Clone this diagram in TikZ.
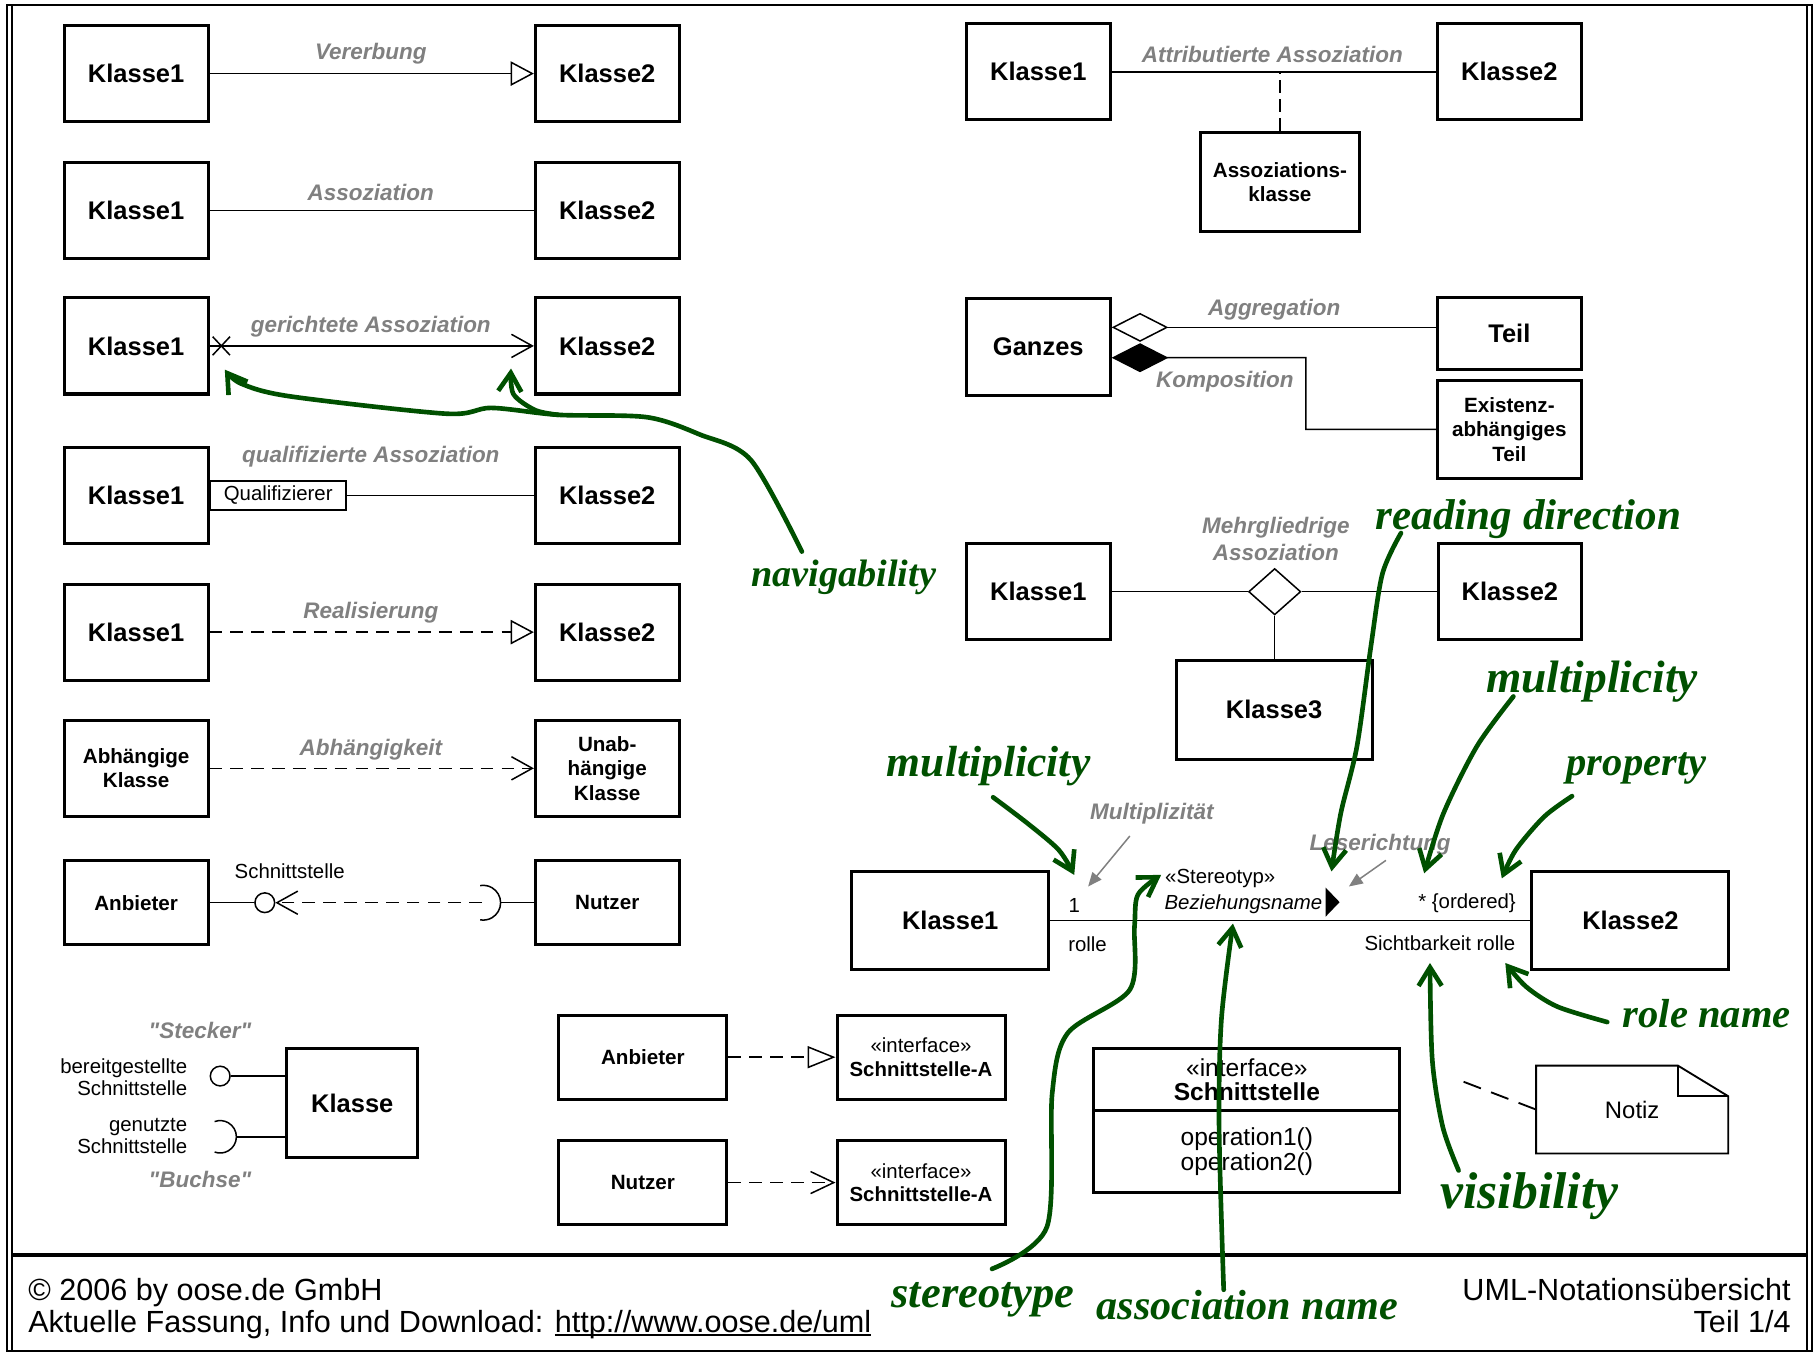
\documentclass[tikz,border=0pt]{standalone}
\usepackage{fontspec}
\setmainfont{Liberation Sans}[Ligatures=TeXOff]
\newfontfamily\handfont{Liberation Serif}
\usetikzlibrary{arrows.meta,shapes.geometric}

\definecolor{labelgray}{RGB}{128,128,128}
\definecolor{inkgreen}{RGB}{0,80,0}

\newcommand\unterstrich[1]{\setbox0=\hbox{#1}\rlap{\rule[-1.7pt]{\wd0}{0.7pt}}\box0}

\tikzset{
  klasse/.style={draw, line width=1.3pt, inner sep=0pt, minimum width=62pt, minimum height=41.5pt, align=center, font=\fontsize{11}{12}\selectfont\bfseries},
  klasseklein/.style={klasse, font=\fontsize{8.9}{10.5}\selectfont\bfseries},
  rel/.style={line width=0.65pt},
  relgestr/.style={rel, dash pattern=on 5.5pt off 3.5pt},
  relname/.style={text=labelgray, inner sep=0pt, align=center, font=\fontsize{9.7}{11.5}\selectfont\bfseries\itshape},
  txt/.style={inner sep=0pt, align=center, font=\fontsize{8.8}{9.6}\selectfont},
  zeig/.style={draw=labelgray, line width=0.65pt, -{Triangle[length=6pt,width=5pt]}},
  erbt/.style={-{Triangle[open,length=10pt,width=10.5pt]}},
  navig/.style={-{Straight Barb[length=9pt,width=10pt]}},
  hand/.style={draw=inkgreen, line width=2pt, line cap=round, line join=round, -{Straight Barb[length=8pt,width=10pt]}},
  handtext/.style={text=inkgreen, inner sep=0pt, anchor=base west, font=\handfont\bfseries\itshape\fontsize{#1}{#1}\selectfont},
}

\begin{document}
\begin{tikzpicture}[x=0.5pt, y=-0.5pt]
  \useasboundingbox (0,0) rectangle (1568,1168);
  % frame
  \draw[line width=0.9pt] (6,4) rectangle (1563.5,1166);
  \draw[line width=0.9pt] (10.5,4) -- (10.5,1166) (1559.5,4) -- (1559.5,1166);
  \draw[line width=1.3pt] (10.5,1083) -- (1559.5,1083);

  % left column
  \node[klasse] (v1) at (117.5,63.5) {Klasse1};
  \node[klasse] (v2) at (524,63.5) {Klasse2};
  \draw[rel,erbt] (v1) -- (v2);
  \node[relname] (vn) at (320,46) {Vererbung};

  \node[klasse] (a1) at (117.5,181.5) {Klasse1};
  \node[klasse] (a2) at (524,181.5) {Klasse2};
  \draw[rel] (a1) -- (a2);
  \node[relname] (an) at (320,166) {Assoziation};

  \node[klasse] (g1) at (117.5,298.5) {Klasse1};
  \node[klasse] (g2) at (524,298.5) {Klasse2};
  \draw[rel,navig] (g1) -- (g2);
  \coordinate (gx) at (191,298.5);
  \draw[rel] (gx) +(-7.5,-8) -- +(7.5,8) (gx) +(-7.5,8) -- +(7.5,-8);
  \node[relname] (gn) at (320,282) {gerichtete Assoziation};

  \node[klasse] (q1) at (117.5,427.5) {Klasse1};
  \node[klasse] (q2) at (524,427.5) {Klasse2};
  \node[draw, line width=0.8pt, minimum width=58.5pt, minimum height=12.5pt, inner sep=0pt, anchor=west, font=\fontsize{8.8}{9.6}\selectfont] (qq) at (q1.east) {Qualifizierer};
  \draw[rel] (qq) -- (q2);
  \node[relname] (qn) at (320,394) {qualifizierte Assoziation};

  \node[klasse] (r1) at (117.5,545.5) {Klasse1};
  \node[klasse] (r2) at (524,545.5) {Klasse2};
  \draw[relgestr,erbt] (r1) -- (r2);
  \node[relname] (rn) at (320,529) {Realisierung};

  \node[klasseklein] (d1) at (117.5,663) {Abhängige\\Klasse};
  \node[klasseklein] (d2) at (524,663) {Unab-\\hängige\\Klasse};
  \draw[relgestr,navig] (d1) -- (d2);
  \node[relname] (dn) at (320,647) {Abhängigkeit};

  \node[klasseklein, minimum height=36.3pt] (s1) at (117.5,779) {Anbieter};
  \node[klasseklein, minimum height=36.3pt] (s2) at (524,779) {Nutzer};
  \node[circle, draw, rel, minimum size=8.5pt, inner sep=0pt] (sb) at (228.5,779) {};
  \coordinate (sk) at (432,779);
  \draw[rel] (s1) -- (sb);
  \draw[rel] (sk) -- (s2);
  \draw[rel] (sk) arc[start angle=0, end angle=100, radius=15] (sk) arc[start angle=0, end angle=-100, radius=15];
  \draw[relgestr,navig] ([xshift=-8pt]sk) -- (sb);
  \node[txt] (sn) at (250,752) {Schnittstelle};

  % right column
  \node[klasse] (t1) at (896,62) {Klasse1};
  \node[klasse] (t2) at (1302.5,62) {Klasse2};
  \draw[rel] (t1) -- (t2);
  \node[klasseklein, minimum width=68.5pt, minimum height=43pt] (tk) at (1104.5,157) {Assoziations-\\klasse};
  \draw[rel, dash pattern=on 5.5pt off 2.7pt] (tk.north) -- (tk.north |- t1.east);
  \node[relname] (tn) at (1098,47) {Attributierte Assoziation};

  \node[klasse] (ga) at (896,299.5) {Ganzes};
  \node[klasse, minimum height=31pt] (te) at (1302.5,288) {Teil};
  \node[klasseklein, minimum height=42.5pt] (ex) at (1302.5,370.5) {Existenz-\\abhängiges\\Teil};
  \coordinate (ag) at ([yshift=8.5pt]ga.east);
  \coordinate (ko) at ([yshift=-4.6pt]ga.east);
  \draw[rel,{Diamond[open,length=24.5pt,width=12.5pt]}-] (ag) -- (ag -| te.west);
  \draw[rel,{Diamond[length=24.5pt,width=12.5pt]}-] (ko) -- (1127,308.7) |- (ex.west);
  \node[relname] (agn) at (1099.6,267.5) {Aggregation};
  \node[relname] (kon) at (1057,329.4) {Komposition};

  \node[klasse] (m1) at (896,510.6) {Klasse1};
  \node[klasse] (m2) at (1303,510.6) {Klasse2};
  \node[diamond, draw, rel, inner sep=0pt, minimum width=22.5pt, minimum height=20pt] (md) at (1100,510.6) {};
  \node[klasse, minimum width=84.5pt, minimum height=42.5pt] (m3) at (1099.5,612.5) {Klasse3};
  \draw[rel] (m1) -- (md) -- (m2);
  \draw[rel] (md.south) -- (md.south |- m3.north);
  \node[relname] (mn) at (1101,465) {Mehrgliedrige\\Assoziation};

  % association in detail
  \node[klasse, minimum width=85pt, minimum height=42.5pt] (b1) at (820,794.5) {Klasse1};
  \node[klasse, minimum width=85pt, minimum height=42.5pt] (b2) at (1407,794.5) {Klasse2};
  \draw[rel] (b1) -- (b2);
  \node[txt] (bm1) at (927,781) {1};
  \node[txt] (br1) at (938.5,815) {rolle};
  \node[txt] (bst) at (1053,758) {«Stereotyp»};
  \node[txt, font=\fontsize{8.8}{9.6}\selectfont\itshape] (bbz) at (1073,780) {Beziehungsname};
  \fill (1144,766) -- (1156,778.5) -- (1144,791) -- cycle;
  \node[txt, anchor=east] (bm2) at (1308.5,779.5) {* \{ordered\}};
  \node[txt, anchor=east] (br2) at (1308,814) {Sichtbarkeit rolle};
  \node[relname] (bmn) at (994,702) {Multiplizität};
  \node[relname] (bln) at (1191,729) {Leserichtung};
  \coordinate (bmz) at (939,765);
  \coordinate (blz) at (1164,765);
  \draw[zeig] ([shift={(-19,10)}]bmn.south) -- (bmz);
  \draw[zeig] ([shift={(5,4)}]bln.south) -- (blz);

  % ball and socket
  \node[klasse, minimum width=56.5pt, minimum height=47pt] (kl) at (304,952) {Klasse};
  \node[circle, draw, rel, minimum size=8.5pt, inner sep=0pt] (kb) at (190,928.6) {};
  \draw[rel] (kb) -- (kb -| kl.west);
  \coordinate (ks) at (204,981);
  \draw[rel] (ks) -- (ks -| kl.west);
  \draw[rel] (ks) arc[start angle=0, end angle=110, radius=14] (ks) arc[start angle=0, end angle=-110, radius=14];
  \node[txt, align=right, anchor=east, font=\fontsize{8.8}{9.5}\selectfont] (kbt) at (162,929.5) {bereitgestellte\\Schnittstelle};
  \node[txt, align=right, anchor=east, font=\fontsize{8.8}{9.5}\selectfont] (kst) at (162,980.5) {genutzte\\Schnittstelle};
  \node[relname] (kbn) at (172.6,889) {"Stecker"};
  \node[relname] (ksn) at (172.6,1018) {"Buchse"};

  % interfaces
  \node[klasseklein, minimum width=72.5pt, minimum height=36.3pt] (ia) at (554.8,912.3) {Anbieter};
  \node[klasseklein, minimum width=72.5pt, minimum height=36.3pt, font=\fontsize{8.8}{10}\selectfont] (ib) at (794.8,912.3) {«interface»\\\textbf{Schnittstelle-A}};
  \draw[relgestr,-{Triangle[open,length=12pt,width=9.5pt]}] (ia) -- (ib);
  \node[klasseklein, minimum width=72.5pt, minimum height=36.3pt] (na) at (554.8,1020.5) {Nutzer};
  \node[klasseklein, minimum width=72.5pt, minimum height=36.3pt, font=\fontsize{8.8}{10}\selectfont] (nb) at (794.8,1020.5) {«interface»\\\textbf{Schnittstelle-A}};
  \draw[relgestr,-{Straight Barb[length=10pt,width=9.5pt]}] (na) -- (nb);

  \node[draw, line width=1.3pt, outer sep=0pt, minimum width=132pt, minimum height=27pt, inner sep=0pt, align=center, font=\fontsize{10.6}{10.5}\selectfont] (ic) at (1076,931.5) {«interface»\\\textbf{Schnittstelle}};
  \node[draw, line width=1.3pt, outer sep=0pt, minimum width=132pt, minimum height=35.25pt, inner sep=0pt, align=center, font=\fontsize{10.6}{11}\selectfont, anchor=north] (io) at (ic.south) {operation1()\\operation2()};

  % note
  \node[minimum width=82.5pt, minimum height=37.5pt, inner sep=0pt, font=\fontsize{10.3}{12}\selectfont] (nz) at (1408.5,957.5) {Notiz};
  \draw[line width=0.8pt] (nz.south west) |- ([xshift=-21.7pt]nz.north east) -- ([yshift=-13.2pt]nz.north east) -- (nz.south east) -- cycle;
  \draw[line width=0.8pt] ([xshift=-21.7pt]nz.north east) |- ([yshift=-13.2pt]nz.north east);
  \coordinate (nzl) at (1263,933.5);
  \draw[line width=0.8pt, dash pattern=on 8pt off 4.7pt] (nzl) -- (nz.west);

  % footer
  \node[inner sep=0pt, anchor=north west, align=left, font=\fontsize{13.2}{13.5}\selectfont] (fl) at (24,1103) {© 2006 by oose.de GmbH\\Aktuelle Fassung, Info und Download: \unterstrich{http://www.oose.de/uml}};
  \node[inner sep=0pt, anchor=north east, align=right, font=\fontsize{13.2}{13.5}\selectfont] (fr) at (1545.6,1103) {UML-Notationsübersicht\\Teil 1/4};

  % handwritten notes
  \node[handtext=16.5] (hnav) at (648,506) {navigability};
  \coordinate (hnavS) at ([shift={(44,-30)}]hnav.base west);
  \coordinate (hnavJ) at (482,358);
  \coordinate (hnavK1) at (194,319);
  \coordinate (hnavK2) at (441,318);
  \draw[hand] plot[smooth] coordinates {(hnavS) (648,397) (604,375) (558,360) (hnavJ) (424,352) (385,357) (250,342) (208,331) (hnavK1)};
  \draw[hand] plot[smooth] coordinates {(hnavJ) (462,354) (443,340) (hnavK2)};

  \node[handtext=18.6] (hread) at (1187,457) {reading direction};
  \coordinate (hreadS) at ([shift={(22,3)}]hread.base west);
  \coordinate (hreadE) at (1149,752);
  \draw[hand] plot[smooth] coordinates {(hreadS) (1193,495) (1183,558) (1171,644) (1157,702) (hreadE)};

  \node[handtext=19.6] (hmulr) at (1282,598) {multiplicity};
  \coordinate (hmulrS) at ([shift={(24,3)}]hmulr.base west);
  \coordinate (hmulrE) at (1229,753.6);
  \draw[hand] plot[smooth] coordinates {(hmulrS) (1274.5,644) (1245.6,702) (hmulrE)};

  \node[handtext=17.5] (hprop) at (1351.6,669) {property};
  \coordinate (hpropS) at ([shift={(5,18)}]hprop.base west);
  \coordinate (hpropE) at (1296,758);
  \draw[hand] plot[smooth] coordinates {(hpropS) (1332.6,704.7) (1308,733.5) (hpropE)};

  \node[handtext=18.8] (hmull) at (765,670) {multiplicity};
  \coordinate (hmullS) at ([shift={(92,18)}]hmull.base west);
  \coordinate (hmullE) at (927,755);
  \draw[hand] plot[smooth] coordinates {(hmullS) (886.7,710.5) (913.7,733.5) (hmullE)};

  \node[handtext=17.5] (hrole) at (1400,887) {role name};
  \coordinate (hroleS) at ([shift={(-13,-5)}]hrole.base west);
  \coordinate (hroleE) at (1299,831);
  \draw[hand] plot[smooth] coordinates {(hroleS) (1344,868.7) (1317,851.5) (hroleE)};

  \node[handtext=22.3] (hvis) at (1242.7,1043) {visibility};
  \coordinate (hvisS) at ([shift={(16,-33)}]hvis.base west);
  \coordinate (hvisE) at (1234,831);
  \draw[hand] plot[smooth] coordinates {(hvisS) (1245,972.3) (1236,914.7) (hvisE)};

  \node[handtext=19.2] (hster) at (769,1128) {stereotype};
  \coordinate (hsterS) at ([shift={(87,-33)}]hster.base west);
  \coordinate (hsterE) at (1002,755);
  \draw[hand] plot[smooth] coordinates {(hsterS) (903.5,1058.6) (908,943.5) (921.4,891.5) (975,854) (979,800) (982,772) (hsterE)};

  \node[handtext=18.2] (hass) at (946,1139) {association name};
  \coordinate (hassS) at ([shift={(110,-26)}]hass.base west);
  \coordinate (hassE) at (1064,797);
  \draw[hand] plot[smooth] coordinates {(hassS) (1052,972) (1054,880) (hassE)};
\end{tikzpicture}
\end{document}
